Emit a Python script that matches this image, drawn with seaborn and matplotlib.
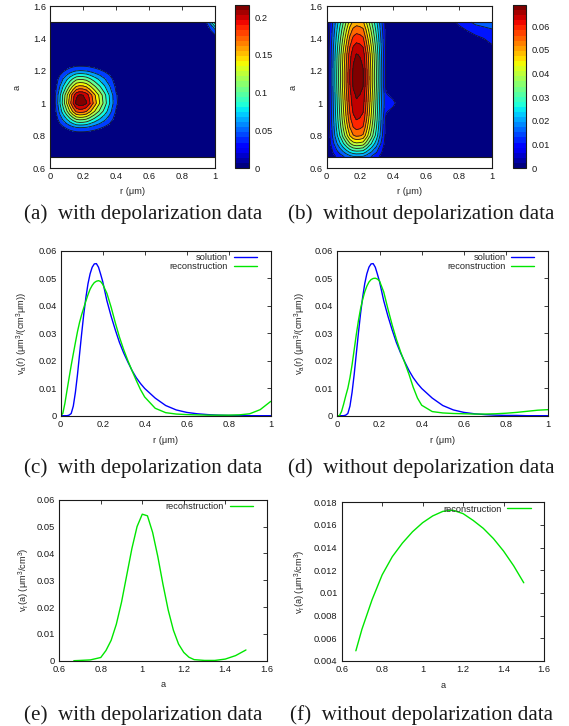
import numpy as np
import matplotlib
matplotlib.use("Agg")
import matplotlib.pyplot as plt
import seaborn as sns
from matplotlib.colors import Normalize
from matplotlib.cm import ScalarMappable
from matplotlib.ticker import FormatStrFormatter

# ---------------- values ----------------
# grid of the two (r, a) maps
r_grid = [0, 0.02, 0.04, 0.06, 0.08, 0.1, 0.12, 0.14, 0.16, 0.18, 0.2, 0.22, 0.24,
          0.27, 0.3, 0.33, 0.36, 0.4, 0.45, 0.5, 0.6, 0.7, 0.8, 0.9, 0.95, 1.0]
a_grid = [0.67, 0.7, 0.75, 0.8, 0.85, 0.9, 0.95, 1.0, 1.05, 1.1, 1.15, 1.2, 1.25,
          1.3, 1.35, 1.4, 1.45, 1.5]

# (a) with depolarization: peak height and relative profiles along r and a
peak_a = 0.215
r_prof_a = [0, 0.03, 0.14, 0.28, 0.42, 0.56, 0.71, 0.85, 0.97, 1.0, 0.99, 0.95, 0.86,
            0.71, 0.57, 0.43, 0.29, 0.11, 0.02, 0.003, 0, 0, 0, 0, 0, 0]
a_prof_a = [0, 0, 0, 0.01, 0.19, 0.48, 0.79, 0.99, 0.94, 0.69, 0.45, 0.19, 0.02, 0,
            0, 0, 0, 0]
# small blob in the top right corner (rows a, cols r)
corner_a_rows = [1.4, 1.45, 1.5]
corner_a_cols = [0.9, 0.95, 1.0]
corner_a = [[0, 0, 0.008],
            [0, 0.006, 0.035],
            [0, 0.022, 0.09]]

# (b) without depolarization
peak_b = 0.068
r_prof_b = [0, 0.105, 0.235, 0.365, 0.495, 0.625, 0.755, 0.885, 0.97, 1.0, 0.99, 0.965,
            0.84, 0.645, 0.45, 0.24, 0.05, 0.01, 0.002, 0, 0, 0, 0, 0, 0, 0]
a_prof_b = [0.22, 0.35, 0.57, 0.75, 0.83, 0.885, 0.92, 0.945, 0.965, 0.99, 1.0, 0.995,
            0.98, 0.96, 0.91, 0.85, 0.78, 0.70]
corner_b_rows = [1.3, 1.35, 1.4, 1.45, 1.5]
corner_b_cols = [0.7, 0.8, 0.9, 0.95, 1.0]
corner_b = [[0, 0, 0, 0.001, 0.002],
            [0, 0, 0.0015, 0.0025, 0.0045],
            [0, 0.0015, 0.0038, 0.005, 0.0065],
            [0, 0.0035, 0.0068, 0.0085, 0.0095],
            [0.001, 0.006, 0.0115, 0.012, 0.0125]]
bulge_b_rows = [0.95, 1.0, 1.05]
bulge_b_cols = [0.36, 0.4, 0.45]
bulge_b = [[0.0025, 0.0025, 0],
           [0.003, 0.0062, 0.0008],
           [0.0025, 0.0025, 0]]

# (c), (d) size distributions v_a(r)
r_line = [0, 0.01, 0.02, 0.03, 0.04, 0.05, 0.06, 0.07, 0.08, 0.09, 0.1, 0.11, 0.12, 0.13,
          0.14, 0.15, 0.16, 0.17, 0.18, 0.19, 0.2, 0.22, 0.24, 0.26, 0.28, 0.3, 0.32, 0.34,
          0.36, 0.38, 0.4, 0.45, 0.5, 0.55, 0.6, 0.65, 0.7, 0.75, 0.8, 0.85, 0.9, 0.95, 1.0]
solution = [0, 0, 0, 0, 0.0002, 0.0008, 0.0035, 0.0085, 0.0150, 0.0225, 0.0300, 0.0370,
            0.0430, 0.0480, 0.0516, 0.0540, 0.0552, 0.0553, 0.0540, 0.0515, 0.0488, 0.0418,
            0.0362, 0.0312, 0.0266, 0.0228, 0.0195, 0.0164, 0.0138, 0.0117, 0.0099, 0.0064,
            0.0037, 0.0021, 0.0012, 0.0007, 0.0004, 0.0002, 0.0001, 0.0001, 0, 0, 0]
recon_c = [0, 0.0008, 0.0045, 0.0092, 0.0138, 0.0183, 0.0225, 0.0266, 0.0306, 0.0340,
           0.0368, 0.0393, 0.0417, 0.0440, 0.0460, 0.0474, 0.0484, 0.0489, 0.0491, 0.0488,
           0.0478, 0.0445, 0.0395, 0.0338, 0.0285, 0.0240, 0.0200, 0.0163, 0.0128, 0.0095,
           0.0068, 0.0027, 0.0011, 0.0006, 0.0004, 0.0003, 0.0002, 0.0002, 0.0002, 0.0003,
           0.0007, 0.0022, 0.0052]
recon_d = [0, 0, 0.0015, 0.0042, 0.0072, 0.0100, 0.0138, 0.0185, 0.0240, 0.0295,
           0.0345, 0.0388, 0.0422, 0.0450, 0.0471, 0.0486, 0.0495, 0.0499, 0.0500, 0.0497,
           0.0490, 0.0450, 0.0388, 0.0330, 0.0278, 0.0232, 0.0192, 0.0150, 0.0103, 0.0064,
           0.0038, 0.0015, 0.0010, 0.0008, 0.0007, 0.0006, 0.0006, 0.0007, 0.0009, 0.0012,
           0.0016, 0.0020, 0.0022]

# (e), (f) shape distributions v_r(a)
a_e = [0.67, 0.7, 0.75, 0.8, 0.825, 0.85, 0.875, 0.9, 0.925, 0.95, 0.975, 1.0, 1.025, 1.05,
       1.075, 1.1, 1.125, 1.15, 1.175, 1.2, 1.225, 1.25, 1.3, 1.35, 1.4, 1.45, 1.5]
recon_e = [0, 0.0001, 0.0003, 0.0012, 0.0038, 0.0076, 0.0136, 0.0218, 0.0318, 0.0418,
           0.0500, 0.0546, 0.0540, 0.0478, 0.0388, 0.0284, 0.0189, 0.0114, 0.0062, 0.0031,
           0.0013, 0.0004, 0.0001, 0.0001, 0.0006, 0.0019, 0.0040]
a_f = [0.67, 0.7, 0.75, 0.8, 0.85, 0.9, 0.95, 1.0, 1.05, 1.1, 1.15, 1.2, 1.25, 1.3, 1.35,
       1.4, 1.45, 1.5]
recon_f = [0.0049, 0.0068, 0.0094, 0.0116, 0.0132, 0.0144, 0.0154, 0.0162, 0.0168, 0.0172,
           0.0173, 0.0170, 0.0164, 0.0157, 0.0148, 0.0137, 0.0124, 0.0109]

captions = ["(a)  with depolarization data", "(b)  without depolarization data",
            "(c)  with depolarization data", "(d)  without depolarization data",
            "(e)  with depolarization data", "(f)  without depolarization data"]

# ---------------- drawing ----------------
sns.set_theme(style="white")
plt.rcParams["font.family"] = ["Liberation Sans", "DejaVu Sans"]
plt.rcParams["mathtext.default"] = "regular"

W, H = 569, 726
FS = 6.7
BLUE = "#0000ff"
GREEN = "#00e600"
jet = plt.get_cmap("jet")
jet32 = plt.get_cmap("jet", 32)

fig = plt.figure(figsize=(W / 100, H / 100), dpi=100)


def box(x0, y0, x1, y1):
    # pixel box in the reference (origin top left) -> figure fraction
    return [x0 / W, 1 - y1 / H, (x1 - x0) / W, (y1 - y0) / H]


def style(ax, xoff, yoff):
    ax.tick_params(direction="in", top=True, right=True, length=3, width=0.6,
                   labelsize=FS, pad=3, colors="k")
    for s in ax.spines.values():
        s.set_color("k")
        s.set_linewidth(0.8)
    ax.xaxis.set_major_formatter(FormatStrFormatter("%g"))
    ax.yaxis.set_major_formatter(FormatStrFormatter("%g"))
    bb = ax.get_position()
    ax.xaxis.label.set_va("center")
    ax.yaxis.label.set_va("center")
    ax.xaxis.set_label_coords(0.5, -yoff / (bb.height * H))
    ax.yaxis.set_label_coords(-xoff / (bb.width * W), 0.5)


def build_map(peak, r_prof, a_prof, patches):
    z = peak * np.outer(a_prof, r_prof)
    for rows, cols, vals in patches:
        ri = [a_grid.index(v) for v in rows]
        ci = [r_grid.index(v) for v in cols]
        z[np.ix_(ri, ci)] += np.array(vals)
    return z


def draw_map(ax, cax, z, lines, vmax, cticks):
    norm = Normalize(0, vmax)
    # each band takes the colour of its upper level, the zero band is navy
    fills = [jet(0.0)] + [jet(norm(u)) for u in lines[1:] + [vmax]]
    ax.contourf(r_grid, a_grid, z, levels=[-1e-9] + lines + [vmax], colors=fills)
    ax.contour(r_grid, a_grid, z, levels=lines, colors="k", linewidths=0.6)
    ax.hlines([a_grid[0], a_grid[-1]], r_grid[0], r_grid[-1], colors="k", lw=0.8)
    ax.set_xlim(0, 1)
    ax.set_ylim(0.6, 1.6)
    ax.set_xticks([0, 0.2, 0.4, 0.6, 0.8, 1])
    ax.set_yticks([0.6, 0.8, 1, 1.2, 1.4, 1.6])
    ax.set_xlabel("r (μm)", fontsize=FS)
    ax.set_ylabel("a", fontsize=FS)
    cb = fig.colorbar(ScalarMappable(norm=norm, cmap=jet32), cax=cax)
    cb.set_ticks(cticks)
    cb.ax.yaxis.set_major_formatter(FormatStrFormatter("%g"))
    cb.ax.tick_params(direction="in", left=True, right=True, length=2.5, width=0.6,
                      labelsize=FS, pad=4, colors="k")
    cb.outline.set_linewidth(0.8)
    cb.outline.set_edgecolor("k")


def legend(ax, n):
    ax.legend(*[x[-n:] for x in ax.get_legend_handles_labels()], loc="upper right",
              bbox_to_anchor=(0.945, 1.0), frameon=False, markerfirst=False,
              fontsize=FS, handlelength=2.5, handletextpad=0.6, borderpad=0.25,
              borderaxespad=0, labelspacing=0.05)


# row 1: maps
ax_a = fig.add_axes(box(50, 6, 215, 168))
cax_a = fig.add_axes(box(235, 5, 249, 168))
z_a = build_map(peak_a, r_prof_a, a_prof_a, [(corner_a_rows, corner_a_cols, corner_a)])
draw_map(ax_a, cax_a, z_a, [round(0.02 * k, 3) for k in range(1, 11)], 0.216,
         [0, 0.05, 0.1, 0.15, 0.2])
style(ax_a, 33, 24)

ax_b = fig.add_axes(box(326.7, 6, 492, 168))
cax_b = fig.add_axes(box(512.7, 5, 526, 168))
z_b = build_map(peak_b, r_prof_b, a_prof_b,
                [(corner_b_rows, corner_b_cols, corner_b),
                 (bulge_b_rows, bulge_b_cols, bulge_b)])
draw_map(ax_b, cax_b, z_b, [round(0.005 * k, 3) for k in range(1, 14)], 0.069,
         [0, 0.01, 0.02, 0.03, 0.04, 0.05, 0.06])
style(ax_b, 33.4, 24)

# row 2: v_a(r)
for (x0, x1, recon, xoff) in [(60.7, 270.7, recon_c, 38), (337.3, 548.3, recon_d, 37.3)]:
    ax = fig.add_axes(box(x0, 250.7, x1, 415.7))
    sns.lineplot(x=r_line, y=solution, ax=ax, color=BLUE, lw=1.0, label="solution", sort=False)
    sns.lineplot(x=r_line, y=recon, ax=ax, color=GREEN, lw=1.0, label="reconstruction", sort=False)
    ax.set_xlim(0, 1)
    ax.set_ylim(0, 0.06)
    ax.set_xticks([0, 0.2, 0.4, 0.6, 0.8, 1])
    ax.set_yticks([0, 0.01, 0.02, 0.03, 0.04, 0.05, 0.06])
    ax.set_xlabel("r (μm)", fontsize=FS)
    ax.set_ylabel("v$_a$(r) (μm$^3$/(cm$^3$μm))", fontsize=FS)
    legend(ax, 2)
    style(ax, xoff, 25)

# row 3: v_r(a)
ax_e = fig.add_axes(box(59.3, 499.7, 266.7, 660.7))
sns.lineplot(x=a_e, y=recon_e, ax=ax_e, color=GREEN, lw=1.0, label="reconstruction", sort=False)
ax_e.set_xlim(0.6, 1.6)
ax_e.set_ylim(0, 0.06)
ax_e.set_xticks([0.6, 0.8, 1, 1.2, 1.4, 1.6])
ax_e.set_yticks([0, 0.01, 0.02, 0.03, 0.04, 0.05, 0.06])

ax_f = fig.add_axes(box(341.7, 502.3, 544, 661))
sns.lineplot(x=a_f, y=recon_f, ax=ax_f, color=GREEN, lw=1.0, label="reconstruction", sort=False)
ax_f.set_xlim(0.6, 1.6)
ax_f.set_ylim(0.004, 0.018)
ax_f.set_xticks([0.6, 0.8, 1, 1.2, 1.4, 1.6])
ax_f.set_yticks([0.004, 0.006, 0.008, 0.01, 0.012, 0.014, 0.016, 0.018])

for ax, xoff in [(ax_e, 35.3), (ax_f, 41.7)]:
    ax.set_xlabel("a", fontsize=FS)
    ax.set_ylabel("v$_r$(a) (μm$^3$/cm$^3$)", fontsize=FS)
    legend(ax, 1)
    style(ax, xoff, 24)

# sub-captions
for i, txt in enumerate(captions):
    x = [143.5, 421][i % 2]
    y = [219, 473, 720][i // 2]
    fig.text(x / W, 1 - y / H, txt, ha="center", va="baseline", fontsize=15.2,
             family="Liberation Serif", color="k")

fig.savefig("out.png", dpi=100)
